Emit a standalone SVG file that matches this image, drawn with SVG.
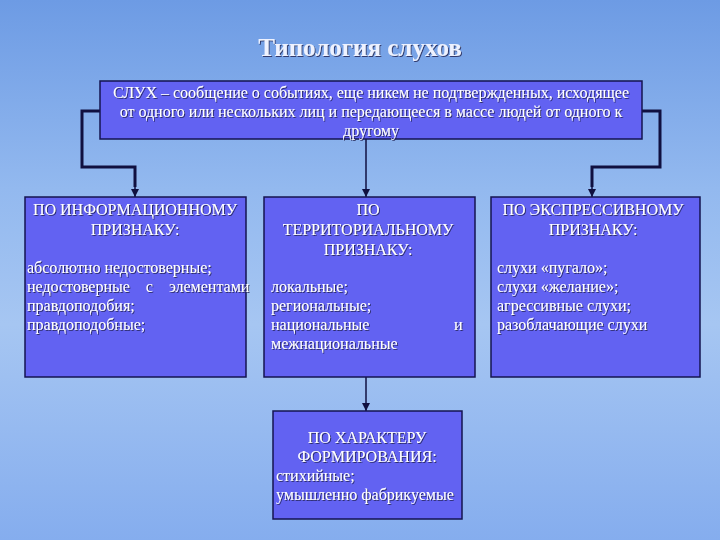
<svg xmlns="http://www.w3.org/2000/svg" width="720" height="540" viewBox="0 0 720 540">
<defs>
<linearGradient id="bg" x1="0" y1="0" x2="0" y2="1">
<stop offset="0" stop-color="#6d9be4"/><stop offset="0.35" stop-color="#93b9ef"/><stop offset="0.6" stop-color="#a6c6f2"/><stop offset="1" stop-color="#85adee"/>
</linearGradient>
<marker id="ar" markerWidth="8" markerHeight="8" refX="8" refY="4" orient="auto" markerUnits="userSpaceOnUse">
<path d="M0,0 L8,4 L0,8 Z" fill="#101040"/>
</marker>
<filter id="sh"><feDropShadow dx="1" dy="1" stdDeviation="0.3" flood-color="#202050" flood-opacity="0.8"/></filter>
</defs>
<style>
.box{fill:#6262f2;stroke:#141450;stroke-width:1.5}
.t{font-family:"Liberation Serif",serif;font-size:16px;fill:#fff;filter:url(#sh)}
.c{text-anchor:middle}
.ln{fill:none;stroke:#101040;stroke-width:1.5}
.ln2{fill:none;stroke:#101040;stroke-width:3}
</style>
<rect width="720" height="540" fill="url(#bg)"/>
<text x="360" y="56" text-anchor="middle" font-family="Liberation Serif,serif" font-size="25" font-weight="bold" fill="#eef2ff" filter="url(#sh)">Типология слухов</text>
<g id="connectors">
<path class="ln2" d="M100,111 H82 V167 H135 V187"/>
<path class="ln2" d="M642,111 H660 V167 H592 V187"/>
<path class="ln" d="M135,183 V197" marker-end="url(#ar)"/>
<path class="ln" d="M592,183 V197" marker-end="url(#ar)"/>
<path class="ln" d="M366,139 V197" marker-end="url(#ar)"/>
<path class="ln" d="M366,377 V411" marker-end="url(#ar)"/>
</g>
<g id="top">
<rect class="box" x="100" y="81" width="542" height="58"/>
<text class="t c" x="371" y="98">СЛУХ – сообщение о событиях, еще никем не подтвержденных, исходящее</text>
<text class="t c" x="371" y="117">от одного или нескольких лиц и передающееся в массе людей от одного к</text>
<text class="t c" x="371" y="136">другому</text>
</g>
<g id="info">
<rect class="box" x="25" y="197" width="221" height="180"/>
<text class="t c" x="135" y="215">ПО ИНФОРМАЦИОННОМУ</text>
<text class="t c" x="135" y="235">ПРИЗНАКУ:</text>
<text class="t" x="27" y="273">абсолютно недостоверные;</text>
<text class="t" x="27" y="292" word-spacing="12">недостоверные с элементами</text>
<text class="t" x="27" y="311">правдоподобия;</text>
<text class="t" x="27" y="330">правдоподобные;</text>
</g>
<g id="terr">
<rect class="box" x="264" y="197" width="211" height="180"/>
<text class="t c" x="368" y="215">ПО</text>
<text class="t c" x="368" y="235">ТЕРРИТОРИАЛЬНОМУ</text>
<text class="t c" x="368" y="255">ПРИЗНАКУ:</text>
<text class="t" x="271" y="292">локальные;</text>
<text class="t" x="271" y="311">региональные;</text>
<text class="t" x="271" y="330">национальные</text>
<text class="t" x="454" y="330">и</text>
<text class="t" x="271" y="349">межнациональные</text>
</g>
<g id="expr">
<rect class="box" x="491" y="197" width="209" height="180"/>
<text class="t c" x="593" y="215">ПО ЭКСПРЕССИВНОМУ</text>
<text class="t c" x="593" y="235">ПРИЗНАКУ:</text>
<text class="t" x="497" y="273">слухи «пугало»;</text>
<text class="t" x="497" y="292">слухи «желание»;</text>
<text class="t" x="497" y="311">агрессивные слухи;</text>
<text class="t" x="497" y="330">разоблачающие слухи</text>
</g>
<g id="form">
<rect class="box" x="273" y="411" width="189" height="108"/>
<text class="t c" x="367" y="443">ПО ХАРАКТЕРУ</text>
<text class="t c" x="367" y="462">ФОРМИРОВАНИЯ:</text>
<text class="t" x="276" y="481">стихийные;</text>
<text class="t" x="276" y="500">умышленно фабрикуемые</text>
</g>
</svg>
